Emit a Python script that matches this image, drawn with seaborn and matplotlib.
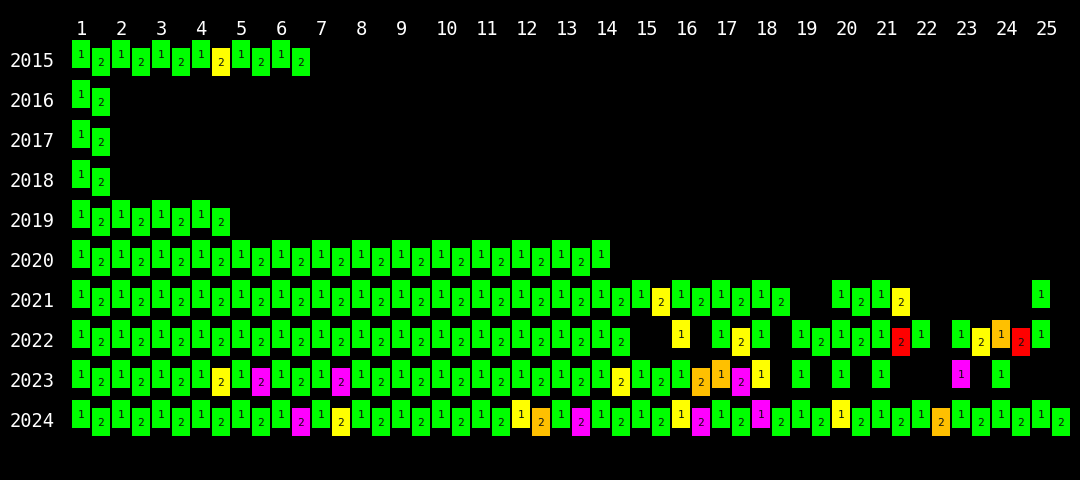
import pandas as pd
import seaborn as sns
import matplotlib.pyplot as plt

years = [2015, 2016, 2017, 2018, 2019, 2020, 2021, 2022, 2023, 2024]
rounds = list(range(1, 26))

# one string per year, one letter per round, '.' = no session
# G green, Y yellow, O orange, R red, M magenta
session1 = [
    'GGGGGG',
    'G',
    'G',
    'G',
    'GGGG',
    'GGGGGGGGGGGGGG',
    'GGGGGGGGGGGGGGGGGG.GG...G',
    'GGGGGGGGGGGGGG.YGGGGGGGOG',
    'GGGGGGGGGGGGGGGGOYGGG.MG',
    'GGGGGGGGGGGYGGGYGMGYGGGGG',
]
session2 = [
    'GGGYGG',
    'G',
    'G',
    'G',
    'GGGG',
    'GGGGGGGGGGGGG',
    'GGGGGGGGGGGGGGYGGG.GY',
    'GGGGGGGGGGGGGG..Y.GGR.YR',
    'GGGYMGMGGGGGGYGOM',
    'GGGGGMYGGGGOMGGMGGGGGOGGG',
]
palette = {'G': '#00ff00', 'Y': '#ffff00', 'O': '#ffc000',
           'R': '#ff0000', 'M': '#ff00ff'}

rows = []
for yr, s1, s2 in zip(years, session1, session2):
    for s, codes in enumerate([s1, s2]):
        for k, c in enumerate(codes, 1):
            if c != '.':
                rows.append({'year': yr, 'round': k, 'session': s, 'code': c})
cells = pd.DataFrame(rows)

sns.set_theme(style='dark', rc={'figure.facecolor': 'black',
                                'axes.facecolor': 'black'})
mono = ['DejaVu Sans Mono', 'DejaVu Sans']

fig = plt.figure(figsize=(10.8, 4.8), dpi=100)
ax = fig.add_axes([0, 0, 1, 1])

ax.bar(cells['round'] + 0.5 * cells['session'], 0.7,
       width=0.45,
       bottom=cells['year'] - 0.45 + 0.2 * cells['session'],
       color=cells['code'].map(palette),
       linewidth=0)

for _, r in cells.iterrows():
    ax.text(r['round'] + 0.5 * r['session'], r['year'] + 0.2 * r['session'] + 0.01,
            str(r['session'] + 1), ha='center', va='baseline',
            fontsize=8, family=mono, color='#111111')

for k in rounds:
    ax.text(k - 0.14, 2014.43, str(k), ha='left', va='baseline',
            fontsize=13.5, family=mono, color='white')

for yr in years:
    ax.text(-0.775, yr + 0.22, str(yr), ha='left', va='baseline',
            fontsize=13.5, family=mono, color='white')

ax.set_xlim(-1.025, 25.975)
ax.set_ylim(2025.55, 2013.55)
ax.axis('off')

plt.savefig('out.png', dpi=100, facecolor='black')
